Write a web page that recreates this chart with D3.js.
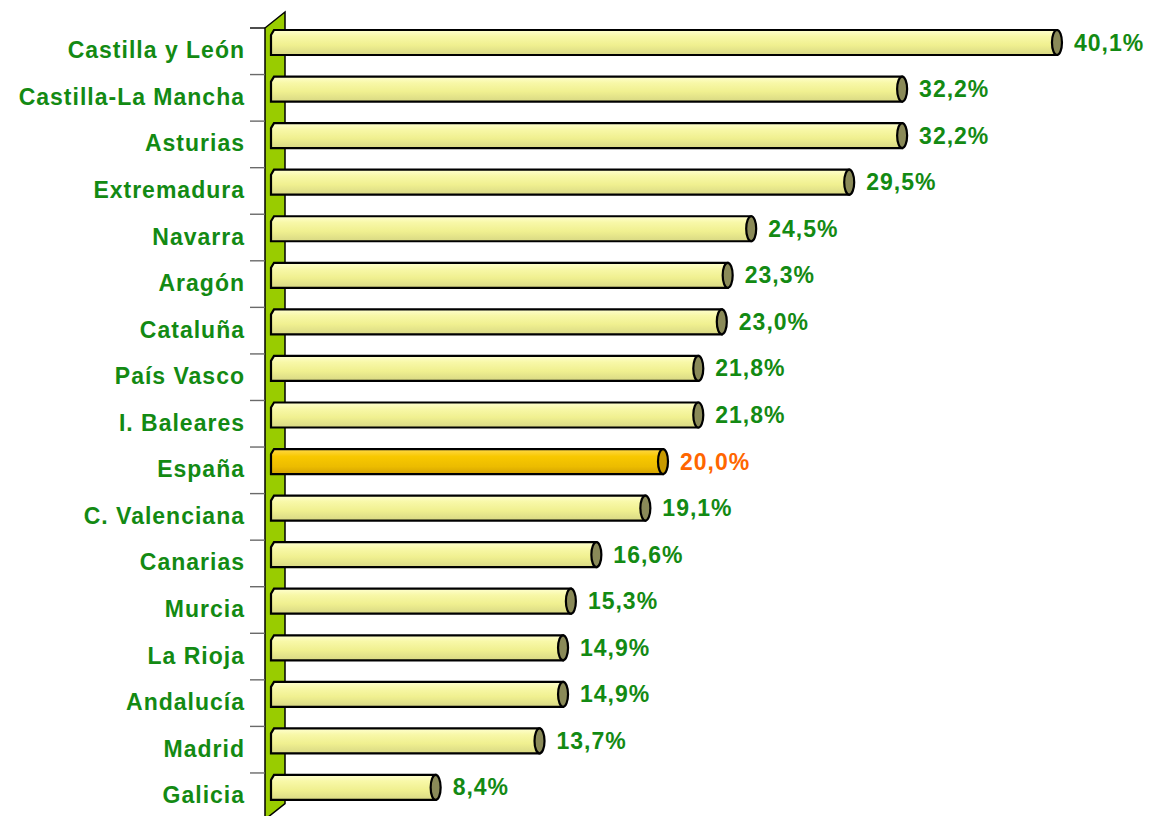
<!DOCTYPE html>
<html>
<head>
  <meta charset='utf-8'>
  <title>Regiones</title>
  <script src="https://cdnjs.cloudflare.com/ajax/libs/d3/7.8.5/d3.min.js"></script>
  <style>
    body { margin: 0; background: white; }
    .lbl, .val {
      font-family: 'Liberation Sans', Arial, sans-serif;
      font-weight: bold;
      font-size: 23px;
      letter-spacing: 1px;
    }
  </style>
</head>
<body>
  <svg id="chart" width="1151" height="816"></svg>
  <script>
    const regions = ["Castilla y León", "Castilla-La Mancha", "Asturias", "Extremadura", "Navarra",
      "Aragón", "Cataluña", "País Vasco", "I. Baleares", "España", "C. Valenciana", "Canarias",
      "Murcia", "La Rioja", "Andalucía", "Madrid", "Galicia"];
    const values = [40.1, 32.2, 32.2, 29.5, 24.5, 23.3, 23.0, 21.8, 21.8, 20.0, 19.1, 16.6,
      15.3, 14.9, 14.9, 13.7, 8.4];
    const valueLabels = ["40,1%", "32,2%", "32,2%", "29,5%", "24,5%", "23,3%", "23,0%", "21,8%",
      "21,8%", "20,0%", "19,1%", "16,6%", "15,3%", "14,9%", "14,9%", "13,7%", "8,4%"];
    const highlight = "España";

    const data = regions.map((r, i) => ({ name: r, value: values[i], label: valueLabels[i] }));

    const svg = d3.select('#chart');
    const plotTop = 28, step = 46.56;
    const y = d3.scaleBand().domain(regions).range([plotTop, plotTop + step * regions.length]);
    const x = d3.scaleLinear().domain([0, 45]).range([271, 271 + 45 * 19.6]);
    const depthX = 20, depthY = 16;
    const barH = 25;

    const defs = svg.append('defs');
    function grad(id, stops) {
      const g = defs.append('linearGradient').attr('id', id)
        .attr('x1', 0).attr('y1', 0).attr('x2', 0).attr('y2', 1);
      stops.forEach(s => g.append('stop').attr('offset', s[0]).attr('stop-color', s[1]));
    }
    grad('barGrad', [[0, '#ffffd0'], [0.25, '#f8f8a8'], [0.6, '#f0f090'], [1, '#d8d884']]);
    grad('spainGrad', [[0, '#ffd84a'], [0.3, '#f8c800'], [0.7, '#ecbc00'], [1, '#d4a200']]);

    // wall
    const wallBottom = plotTop + step * regions.length;
    svg.append('polygon')
      .attr('points', [[265, plotTop], [265 + depthX, plotTop - depthY], [265 + depthX, wallBottom - depthY], [265, wallBottom]].join(' '))
      .attr('fill', '#99cc00')
      .attr('stroke', 'black')
      .attr('stroke-width', 1.5);

    // category ticks
    svg.append('g').selectAll('line')
      .data(d3.range(regions.length + 1))
      .join('line')
      .attr('x1', 250).attr('x2', 265)
      .attr('y1', i => plotTop + i * step).attr('y2', i => plotTop + i * step)
      .attr('stroke', (d, i) => i === 0 ? 'black' : '#6a6a6a')
      .attr('stroke-width', 1.4);

    // bars
    const bars = svg.append('g').selectAll('g')
      .data(data)
      .join('g')
      .attr('transform', d => `translate(0,${y(d.name) + 2})`);

    bars.append('path')
      .attr('d', d => {
        const x0 = x(0), x1 = x(d.value);
        return `M${x0 + 3},0 H${x1} V${barH} H${x0} V5 Z`;
      })
      .attr('fill', d => d.name === highlight ? 'url(#spainGrad)' : 'url(#barGrad)')
      .attr('stroke', 'black')
      .attr('stroke-width', 2.2);

    bars.append('ellipse')
      .attr('cx', d => x(d.value))
      .attr('cy', barH / 2)
      .attr('rx', 5)
      .attr('ry', barH / 2)
      .attr('fill', d => d.name === highlight ? '#c89a00' : '#8a8a58')
      .attr('stroke', 'black')
      .attr('stroke-width', 2.2);

    // value labels
    bars.append('text')
      .attr('class', 'val')
      .attr('x', d => x(d.value) + 17)
      .attr('y', barH / 2 + 8)
      .attr('fill', d => d.name === highlight ? '#ff6600' : '#138a13')
      .text(d => d.label);

    // category labels
    svg.append('g').selectAll('text')
      .data(data)
      .join('text')
      .attr('class', 'lbl')
      .attr('x', 245)
      .attr('y', d => y(d.name) + y.bandwidth() / 2 + 7)
      .attr('text-anchor', 'end')
      .attr('fill', '#138a13')
      .text(d => d.name);
  </script>
</body>
</html>
